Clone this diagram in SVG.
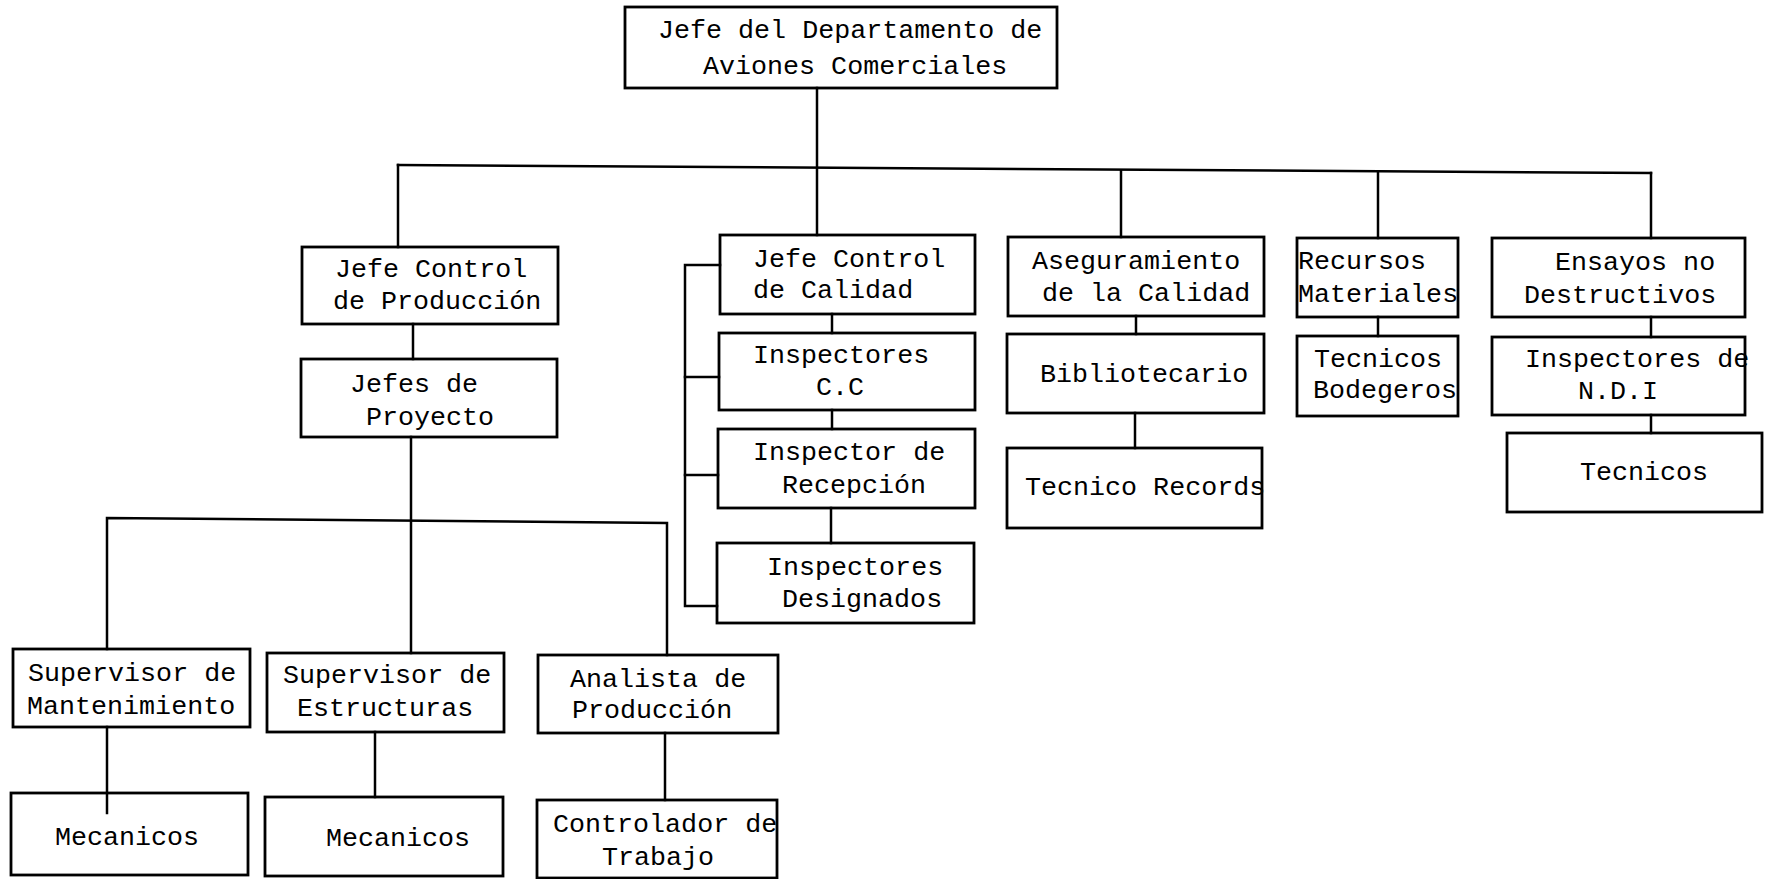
<svg xmlns="http://www.w3.org/2000/svg" width="1767" height="879" viewBox="0 0 1767 879">
<style>
.box{fill:none;stroke:#000;stroke-width:2.8}
.ln{fill:none;stroke:#000;stroke-width:2.5;stroke-linecap:square}
text{font-family:"Liberation Mono","DejaVu Sans Mono",monospace;font-size:26.7px;fill:#000}
</style>
<rect width="1767" height="879" fill="#fff"/>
<g id="connectors">
<path class="ln" d="M398,165 L1651,173"/>
<path class="ln" d="M817,88 V235"/>
<path class="ln" d="M398,165 V247"/>
<path class="ln" d="M1121,171 V237"/>
<path class="ln" d="M1378,172 V238"/>
<path class="ln" d="M1651,173 V238"/>
<path class="ln" d="M413,324 V359"/>
<path class="ln" d="M411,437 V653"/>
<path class="ln" d="M107,649 V518 L667,523 V655"/>
<path class="ln" d="M107,727 V813"/>
<path class="ln" d="M375,732 V797"/>
<path class="ln" d="M665,733 V800"/>
<path class="ln" d="M832,314 V333"/>
<path class="ln" d="M832,410 V429"/>
<path class="ln" d="M831,508 V543"/>
<path class="ln" d="M720,265 H685 V606 H717"/>
<path class="ln" d="M685,377 H719"/>
<path class="ln" d="M685,475 H718"/>
<path class="ln" d="M1136,316 V334"/>
<path class="ln" d="M1135,413 V448"/>
<path class="ln" d="M1378,317 V336"/>
<path class="ln" d="M1651,317 V337"/>
<path class="ln" d="M1651,415 V433"/>
</g>
<g id="jefe-departamento">
<rect class="box" x="625" y="7" width="432" height="81"/>
<text x="658" y="38">Jefe del Departamento de</text>
<text x="703" y="74">Aviones Comerciales</text>
</g>
<g id="jefe-produccion">
<rect class="box" x="302" y="247" width="256" height="77"/>
<text x="335" y="277">Jefe Control</text>
<text x="333" y="309">de Producción</text>
</g>
<g id="jefes-proyecto">
<rect class="box" x="301" y="359" width="256" height="78"/>
<text x="350" y="392">Jefes de</text>
<text x="366" y="425">Proyecto</text>
</g>
<g id="supervisor-mantenimiento">
<rect class="box" x="13" y="649" width="237" height="78"/>
<text x="28" y="681">Supervisor de</text>
<text x="27" y="714">Mantenimiento</text>
</g>
<g id="mecanicos-1">
<rect class="box" x="11" y="793" width="237" height="82"/>
<text x="55" y="845">Mecanicos</text>
</g>
<g id="supervisor-estructuras">
<rect class="box" x="267" y="653" width="237" height="79"/>
<text x="283" y="683">Supervisor de</text>
<text x="297" y="716">Estructuras</text>
</g>
<g id="mecanicos-2">
<rect class="box" x="265" y="797" width="238" height="79"/>
<text x="326" y="846">Mecanicos</text>
</g>
<g id="analista-produccion">
<rect class="box" x="538" y="655" width="240" height="78"/>
<text x="570" y="687">Analista de</text>
<text x="572" y="718">Producción</text>
</g>
<g id="controlador-trabajo">
<rect class="box" x="537" y="800" width="240" height="78"/>
<text x="553" y="832">Controlador de</text>
<text x="602" y="865">Trabajo</text>
</g>
<g id="jefe-calidad">
<rect class="box" x="720" y="235" width="255" height="79"/>
<text x="753" y="267">Jefe Control</text>
<text x="753" y="298">de Calidad</text>
</g>
<g id="inspectores-cc">
<rect class="box" x="719" y="333" width="256" height="77"/>
<text x="753" y="363">Inspectores</text>
<text x="816" y="395">C.C</text>
</g>
<g id="inspector-recepcion">
<rect class="box" x="718" y="429" width="257" height="79"/>
<text x="753" y="460">Inspector de</text>
<text x="782" y="493">Recepción</text>
</g>
<g id="inspectores-designados">
<rect class="box" x="717" y="543" width="257" height="80"/>
<text x="767" y="575">Inspectores</text>
<text x="782" y="607">Designados</text>
</g>
<g id="aseguramiento-calidad">
<rect class="box" x="1008" y="237" width="256" height="79"/>
<text x="1032" y="269">Aseguramiento</text>
<text x="1042" y="301">de la Calidad</text>
</g>
<g id="bibliotecario">
<rect class="box" x="1007" y="334" width="257" height="79"/>
<text x="1040" y="382">Bibliotecario</text>
</g>
<g id="tecnico-records">
<rect class="box" x="1007" y="448" width="255" height="80"/>
<text x="1025" y="495">Tecnico Records</text>
</g>
<g id="recursos-materiales">
<rect class="box" x="1297" y="238" width="161" height="79"/>
<text x="1298" y="269">Recursos</text>
<text x="1298" y="302">Materiales</text>
</g>
<g id="tecnicos-bodegeros">
<rect class="box" x="1297" y="336" width="161" height="80"/>
<text x="1314" y="367">Tecnicos</text>
<text x="1313" y="398">Bodegeros</text>
</g>
<g id="ensayos-no-destructivos">
<rect class="box" x="1492" y="238" width="253" height="79"/>
<text x="1555" y="270">Ensayos no</text>
<text x="1524" y="303">Destructivos</text>
</g>
<g id="inspectores-ndi">
<rect class="box" x="1492" y="337" width="253" height="78"/>
<text x="1525" y="367">Inspectores de</text>
<text x="1578" y="399">N.D.I</text>
</g>
<g id="tecnicos">
<rect class="box" x="1507" y="433" width="255" height="79"/>
<text x="1580" y="480">Tecnicos</text>
</g>
</svg>
